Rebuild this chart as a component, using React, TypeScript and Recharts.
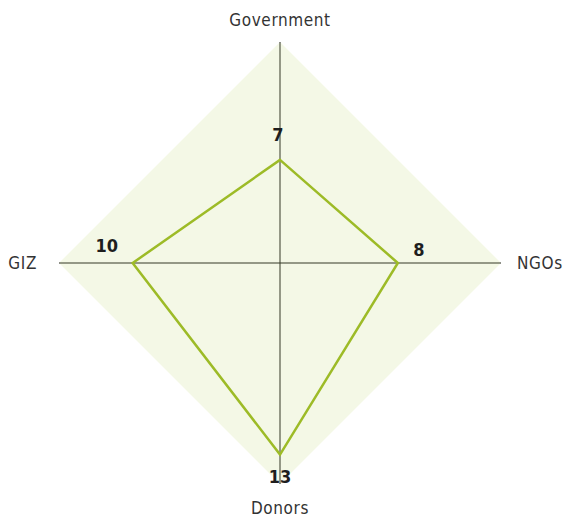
import React from 'react';
import { RadarChart, Radar, PolarGrid, PolarAngleAxis, PolarRadiusAxis, LabelList } from 'recharts';

const stakeholders = ['Government', 'NGOs', 'Donors', 'GIZ'];
const scores = [7, 8, 13, 10];
const maxScore = [15, 15, 15, 15];

const data = stakeholders.map((name, i) => ({ name, score: scores[i], max: maxScore[i] }));

const CX = 280;
const CY = 263;
const R = 221;
const labelFont = '"DejaVu Sans", sans-serif';

// per-stakeholder nudges for the value labels
const valueOffsets: Record<string, [number, number]> = {
  Government: [-2, -25],
  NGOs: [21, -14],
  Donors: [0, 22],
  GIZ: [-26, -18],
};

const AngleTick = (props: any) => {
  const { payload } = props;
  const a = (payload.coordinate * Math.PI) / 180;
  const name = payload.value as string;
  let x = CX + (R + 20) * Math.cos(a);
  let y = CY - (R + 20) * Math.sin(a);
  let anchor: 'start' | 'middle' | 'end' = 'middle';
  if (name === 'NGOs') { x = CX + R + 16; anchor = 'start'; }
  if (name === 'GIZ') { x = CX - R - 22; anchor = 'end'; }
  if (name === 'Government') y = 20;
  if (name === 'Donors') y = 508;
  return (
    <text x={x} y={y} textAnchor={anchor} dominantBaseline="central" fill="#333"
      style={{ fontFamily: labelFont, fontStretch: 'condensed', fontSize: 17, fontWeight: 400, letterSpacing: 0.6 }}>
      {name}
    </text>
  );
};

const ValueLabel = (props: any) => {
  const { x, y, value, index } = props;
  const [dx, dy] = valueOffsets[stakeholders[index]] || [0, 0];
  return (
    <text x={x + dx} y={y + dy} textAnchor="middle" dominantBaseline="central" fill="#1e1e1e"
      style={{ fontFamily: labelFont, fontStretch: 'condensed', fontSize: 18, fontWeight: 700 }}>
      {value}
    </text>
  );
};

export default function App() {
  return (
    <div style={{ position: 'absolute', left: 0, top: 0, background: '#fff' }}>
      <RadarChart width={571} height={519} data={data} cx={CX} cy={CY} outerRadius={R}
        margin={{ top: 0, right: 0, bottom: 0, left: 0 }}>
        <PolarRadiusAxis domain={[0, 15]} tick={false} axisLine={false} />
        <PolarGrid polarRadius={[0]} stroke="#111" strokeOpacity={1} />
        <Radar dataKey="max" stroke="none" fill="#c9dc84" fillOpacity={0.2} isAnimationActive={false} />
        <PolarAngleAxis dataKey="name" tick={<AngleTick />} tickLine={false} axisLine={false} />
        <Radar dataKey="score" stroke="#9dbb27" strokeWidth={2.5} fill="none" fillOpacity={0} isAnimationActive={false}>
          <LabelList dataKey="score" content={<ValueLabel />} />
        </Radar>
      </RadarChart>
    </div>
  );
}
